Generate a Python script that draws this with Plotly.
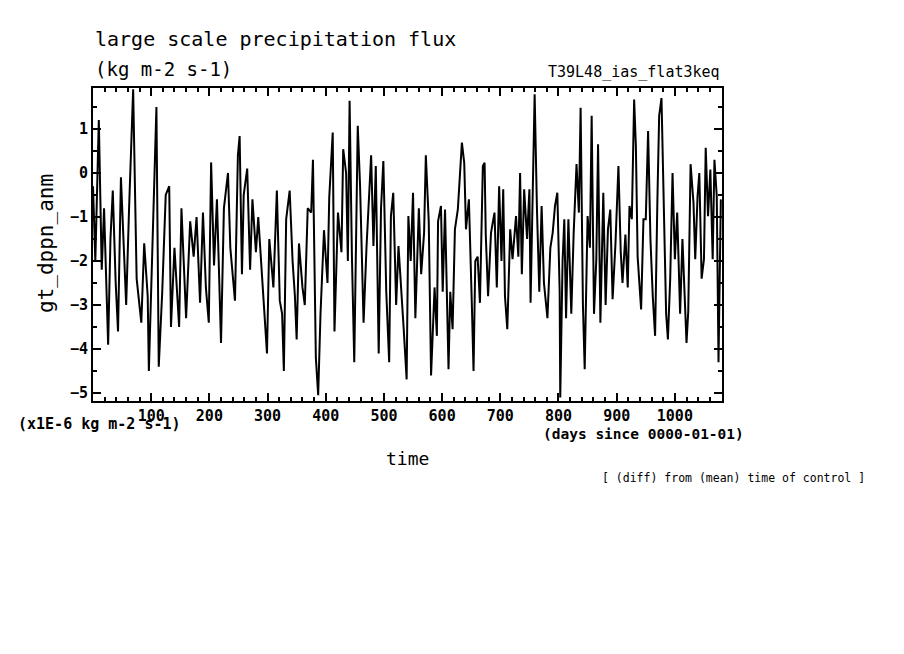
import plotly.graph_objects as go

days = [0,4,10,15,19,26,30,34,39,43,48,57,62,69,75,83,88,94,96,105,109,113,119,125,131,134,140,148,152,160,167,173,178,
        184,189,194,199,203,208,213,217,220,225,232,236,244,249,252,256,259,265,270,274,280,284,292,296,299,303,310,316,321,325,328,332,338,343,347,350,354,
        360,364,369,375,378,383,387,391,397,403,406,412,415,421,427,430,435,438,441,445,449,455,459,465,470,475,478,482,486,491,495,499,504,509,512,516,521,525,530,534,539,
        542,546,550,554,560,564,569,572,577,581,587,591,593,598,601,605,611,614,618,622,627,634,638,641,646,651,654,657,661,665,670,673,675,679,684,690,694,698,702,705,708,712,717,
        721,727,731,734,737,741,746,750,752,757,759,763,767,771,775,781,786,790,794,798,802,803,807,810,813,817,822,826,831,835,838,842,845,850,854,857,861,865,868,872,877,881,885,889,893,898,
        903,907,910,915,919,922,926,930,933,936,942,946,950,954,958,962,966,970,973,977,981,985,988,992,996,1000,1004,1009,1013,1017,1020,1023,1027,1032,1035,1039,1042,1046,1050,1053,1057,1061,1065,1068,1072,1075,1079]
vals = [-0.3,-2.0,1.2,-2.2,-0.8,-3.9,-1.5,-0.4,-2.5,-3.6,-0.1,-3.0,-0.8,1.9,-2.4,-3.4,-1.6,-2.8,-4.5,-0.3,1.5,-4.4,-2.7,-0.5,-0.3,-3.5,-1.7,-3.5,-0.8,-3.3,-1.1,-1.9,-1.0,
        -2.95,-0.9,-2.6,-3.4,0.24,-2.1,-0.6,-2.4,-3.86,-0.8,0.0,-1.7,-2.9,0.4,0.84,-2.3,-0.5,0.1,-2.2,-0.6,-1.8,-1.0,-2.6,-3.3,-4.1,-1.5,-2.6,-0.4,-2.9,-3.2,-4.5,-1.05,-0.4,-2.0,-2.8,-3.78,-1.6,
        -2.6,-3.0,-0.8,-0.9,0.3,-4.2,-5.05,-3.2,-1.3,-2.5,-0.56,0.92,-3.6,-0.9,-1.8,0.54,0.0,-2.0,1.64,-1.9,-4.3,1.07,-0.3,-3.4,-1.7,-0.5,0.4,-1.66,0.16,-4.1,-0.8,0.27,-2.7,-4.3,-0.98,-0.45,-3.0,-1.66,-2.87,-3.55,-4.69,
        -0.98,-2.0,-0.45,-3.3,-0.8,-2.3,-1.36,0.4,-1.1,-4.6,-2.6,-3.7,-1.1,-0.75,-2.7,-0.83,-4.46,-2.7,-3.55,-1.28,-0.83,0.69,0.23,-1.28,-0.6,-2.95,-4.5,-2.0,-1.9,-2.95,0.16,0.23,-1.4,-2.8,-1.36,-0.9,-2.6,-0.3,-2.0,-0.37,-2.8,-3.55,-1.28,
        -1.96,-0.98,-1.9,0.0,-2.3,-0.37,-1.5,-0.37,-2.95,1.0,1.79,-0.83,-2.7,-0.75,-2.5,-3.3,-1.7,-1.36,-0.75,-0.45,-2.7,-5.1,-2.0,-1.05,-3.3,-1.05,-3.2,-1.4,0.2,-0.9,1.48,-3.0,-4.46,-0.98,-1.7,1.3,-3.2,-1.96,0.65,-3.4,-0.45,-3.0,-1.28,-0.83,-2.87,-1.58,
        0.16,-1.8,-2.5,-1.4,-2.6,-0.75,-1.05,1.67,0.6,-1.9,-3.1,-1.05,-1.05,0.95,-1.5,-2.8,-3.7,-0.6,1.3,1.7,-1.05,-3.2,-3.78,-2.4,0.0,-1.96,-0.9,-3.2,-1.5,-2.7,-3.86,-3.15,0.2,-0.68,-1.96,-0.53,0.0,-2.4,-1.96,0.57,-0.98,0.08,-1.96,0.3,-0.53,-4.3,-0.6]

xticks = [100,200,300,400,500,600,700,800,900,1000]
yticks = [-5,-4,-3,-2,-1,0,1]

F = "DejaVu Sans Mono"
fig = go.Figure(go.Scatter(x=days, y=vals, mode="lines", line=dict(color="black", width=2)))
ax = dict(showgrid=False, zeroline=False, showline=True, linecolor="black", linewidth=2, mirror="ticks",
          ticks="inside", tickcolor="black", tickwidth=1.5, tickfont=dict(family=F, size=15, color="black"))
fig.update_xaxes(range=[0,1081], tickvals=xticks, ticklen=8, ticktext=[f"<b>{v}</b>" for v in xticks],
                 minor=dict(dtick=20, tick0=0, ticks="inside", ticklen=4, tickcolor="black"), **ax)
fig.update_yaxes(range=[-5.18,1.93], tickvals=yticks, ticklen=8, ticktext=[f"<b>{v}</b>".replace("-", "−") for v in yticks],
                 minor=dict(dtick=0.5, tick0=0, ticks="inside", ticklen=4, tickcolor="black"), **ax)

def ann(t, x, y, size=14, xa="left", ya="middle", angle=0):
    fig.add_annotation(text=t, x=x, y=y, xref="paper", yref="paper", xanchor=xa, yanchor=ya,
                       showarrow=False, textangle=angle, font=dict(family=F, size=size, color="black"))

def px(x): return (x-92)/629
def py(y): return (400-y)/313
ann("large scale precipitation flux", px(92), py(38), size=20)
ann("(kg m-2 s-1)", px(92), py(68), size=19)
ann("T39L48_ias_flat3keq", px(721), py(71), size=15, xa="right")
ann("gt_dppn_anm", px(45), py(243), size=21, xa="center", angle=-90)
ann("<b>(x1E-6 kg m-2 s-1)</b>", px(15), py(423), size=15)
ann("<b>(days since 0000-01-01)</b>", px(745), py(433), size=14.5, xa="right")
ann("time", px(407), py(457), size=18, xa="center")
ann("[ (diff) from (mean) time of control ]", px(866), py(477), size=11.5, xa="right")

fig.update_layout(width=904, height=654, margin=dict(l=85, r=190, t=80, b=261),
                  plot_bgcolor="white", paper_bgcolor="white", showlegend=False)
fig.write_html("out.html")
